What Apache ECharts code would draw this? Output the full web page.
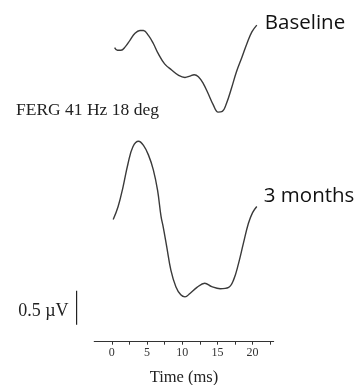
<!DOCTYPE html>
<html>
<head>
<meta charset="utf-8">
<script src="https://cdn.jsdelivr.net/npm/echarts@6/dist/echarts.min.js"></script>
<style>
  html, body { margin: 0; padding: 0; background: #fff; }
  #chart { width: 360px; height: 385px; }
</style>
</head>
<body>
<div id="chart"></div>
<script>
// --- data (time in ms, amplitude in µV relative to each trace) ---
const baselineMs = [0.4, 0.8, 1.3, 1.9, 2.6, 3.3, 4.0, 4.5, 5.2, 5.9, 6.6, 7.5, 8.5, 9.5, 10.4,
  11.1, 11.7, 12.3, 13.0, 13.7, 14.4, 15.1, 15.7, 16.3, 17.0, 17.7, 18.5, 19.2, 19.9, 20.6];
const baselineUv = [0.33, 0.29, 0.29, 0.34, 0.44, 0.54, 0.58, 0.58, 0.51, 0.39, 0.24, 0.09, 0.00, -0.08, -0.11,
  -0.09, -0.07, -0.10, -0.20, -0.35, -0.51, -0.62, -0.61, -0.49, -0.27, -0.03, 0.19, 0.39, 0.56, 0.66];

const monthsMs = [0.2, 0.9, 1.6, 2.3, 3.0, 3.8, 4.5, 5.2, 5.9, 6.5, 7.0, 7.3, 7.8, 8.4, 9.1,
  9.8, 10.4, 11.1, 12.1, 13.2, 14.2, 15.4, 16.6, 17.3, 18.0, 18.7, 19.4, 20.0, 20.6];
const monthsUv = [0.80, 0.99, 1.28, 1.62, 1.87, 1.95, 1.89, 1.75, 1.53, 1.23, 0.84, 0.69, 0.40, 0.05, -0.19,
  -0.31, -0.34, -0.29, -0.20, -0.14, -0.19, -0.22, -0.20, -0.09, 0.15, 0.45, 0.74, 0.90, 0.99];

const tickMs = [0, 5, 10, 15, 20];
const scaleBarMs = -5;
const scaleBarUv = [0.25, 0.5, 0.75];

// vertical position of each trace on the plot (µV)
const baselineOffset = 4.0;
const monthsOffset = 1.0;

const serif = '"Liberation Serif", "DejaVu Serif", serif';
const sans = '"Open Sans", "Liberation Sans", sans-serif';
const ink = '#3a3a3a';

const toPoints = (xs, ys, off) => xs.map((x, i) => [x, ys[i] + off]);

const chart = echarts.init(document.getElementById('chart'));

chart.setOption({
  animation: false,
  backgroundColor: '#fff',
  title: {
    text: 'FERG 41 Hz 18 deg',
    left: 16,
    top: 101,
    padding: 0,
    textStyle: { fontFamily: serif, fontSize: 17.5, fontWeight: 'normal', color: '#222' }
  },
  // main plot, and a strip to its left that carries the scale bar on the same scales
  grid: [
    { left: 94.2, right: 86.3, top: 0, bottom: 43.3, outerBoundsMode: 'none' },
    { left: 0, width: 94.2, top: 0, bottom: 43.3, outerBoundsMode: 'none' }
  ],
  xAxis: [
    {
      type: 'value',
      gridIndex: 0,
      min: -2.5,
      max: 23,
      interval: 2.5,
      name: 'Time (ms)',
      nameLocation: 'middle',
      nameGap: 27,
      nameTextStyle: { fontFamily: serif, fontSize: 16.5, color: '#222' },
      axisLine: { show: true, onZero: false, lineStyle: { color: '#333', width: 1 } },
      axisTick: { show: true, length: 3, lineStyle: { color: '#333' } },
      splitLine: { show: false },
      axisLabel: {
        margin: 5,
        fontFamily: serif,
        fontSize: 12,
        color: '#333',
        showMinLabel: false,
        showMaxLabel: false,
        formatter: v => (tickMs.includes(v) ? String(v) : '')
      }
    },
    { type: 'value', gridIndex: 1, min: -15.88, max: -2.5, show: false }
  ],
  yAxis: [
    { type: 'value', gridIndex: 0, min: 0, max: 5.03, show: false },
    { type: 'value', gridIndex: 1, min: 0, max: 5.03, show: false }
  ],
  series: [
    {
      name: 'Baseline',
      type: 'line',
      smooth: 0.4,
      showSymbol: false,
      silent: true,
      data: toPoints(baselineMs, baselineUv, baselineOffset),
      lineStyle: { color: ink, width: 1.4 },
      endLabel: {
        show: true,
        formatter: 'Baseline',
        distance: 8,
        offset: [0, -2],
        fontFamily: sans,
        fontSize: 20.5,
        color: '#111'
      }
    },
    {
      name: '3 months',
      type: 'line',
      smooth: 0.4,
      showSymbol: false,
      silent: true,
      data: toPoints(monthsMs, monthsUv, monthsOffset),
      lineStyle: { color: ink, width: 1.4 },
      endLabel: {
        show: true,
        formatter: '3 months',
        distance: 7,
        offset: [0, -10],
        fontFamily: sans,
        fontSize: 20.5,
        color: '#111'
      }
    },
    {
      name: 'scale',
      type: 'line',
      xAxisIndex: 1,
      yAxisIndex: 1,
      silent: true,
      symbol: 'circle',
      symbolSize: 0,
      lineStyle: { color: '#222', width: 1.2 },
      data: scaleBarUv.map((v, i) => ({
        value: [scaleBarMs, v],
        label: i === 1 ? {
          show: true,
          position: 'left',
          distance: 8,
          offset: [0, 4],
          formatter: '0.5 \u00b5V',
          fontFamily: serif,
          fontSize: 18,
          color: '#222'
        } : { show: false }
      }))
    }
  ]
});
</script>
</body>
</html>
